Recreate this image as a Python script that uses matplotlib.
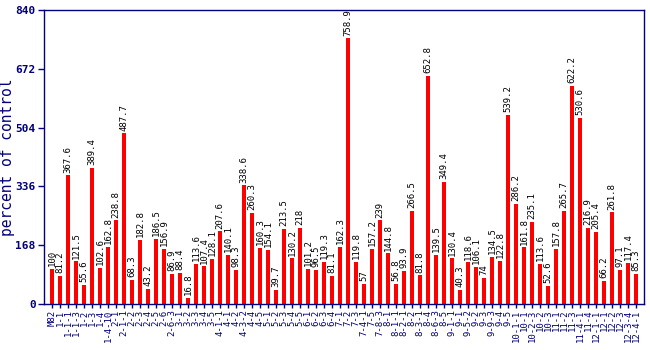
import matplotlib
matplotlib.use("Agg")
import matplotlib.pyplot as plt
import numpy as np

# sample labels and values (percent of control)
labels = ['M82', '1-1', '1-1-1', '1-1-3', '1-2', '1-3', '1-4', '1-4-10', '2-1', '2-1-1',
          '2-2', '2-3', '2-4', '2-5', '2-6', '2-6-3', '3-1', '3-2', '3-3', '3-4',
          '3-5', '4-1-1', '4-1', '4-2', '4-3-2', '4-4', '4-5', '5-1', '5-2', '5-3',
          '5-4', '5-5', '6-1', '6-2', '6-3', '6-4', '7-1', '7-2', '7-3', '7-4-1',
          '7-5', '7-8-3', '8-1', '8-1-1', '8-2-1', '8-2', '8-3-1', '8-4', '8-6-3', '8-5',
          '9-1-1', '9-1', '9-5-2', '9-2', '9-3', '9-9-3', '9-4', '9-5', '10-1-1', '10-1',
          '10-2-3', '10-2', '10-3', '11-1', '11-2', '11-3', '11-4-1', '11-4', '12-1-1', '12-1',
          '12-2', '12-3', '12-3-4', '12-4-1']
values = [100, 81.2, 367.6, 121.5, 55.6, 389.4, 102.6, 162.8, 238.8, 487.7,
          68.3, 182.8, 43.2, 186.5, 156.9, 86.9, 88.4, 16.8, 113.6, 107.4,
          128.1, 207.6, 140.1, 98.3, 338.6, 260.3, 160.3, 154.1, 39.7, 213.5,
          130.2, 218, 101.2, 96.5, 119.3, 81.1, 162.3, 758.9, 119.8, 57,
          157.2, 239, 144.8, 56.8, 93.9, 266.5, 81.8, 652.8, 139.5, 349.4,
          130.4, 40.3, 118.6, 106.1, 74, 134.5, 122.8, 539.2, 286.2, 161.8,
          235.1, 113.6, 52.6, 157.8, 265.7, 622.2, 530.6, 216.9, 205.4, 66.2,
          261.8, 97.1, 117.4, 85.3]
yticks = [0, 168, 336, 504, 672, 840]

navy = '#000080'
mono = 'DejaVu Sans Mono'

fig = plt.figure(figsize=(6.5, 3.5), dpi=100)
ax = fig.add_axes([44 / 650, 46 / 350, 600 / 650, 294 / 350])

x = np.arange(len(values))
ax.bar(x, values, width=0.5, color='#ff0000', zorder=2)

for xi, v in zip(x, values):
    ax.text(xi, v + 8, '%g' % v, rotation=90, ha='center', va='bottom',
            fontsize=6.5, family=mono, color='black')

ax.set_xlim(-1, len(values))
ax.set_ylim(0, 840)
ax.set_yticks(yticks)
ax.set_yticklabels([str(t) for t in yticks], fontsize=8, family=mono,
                   fontweight='bold', color=navy)
ax.set_xticks(x)
ax.set_xticklabels(labels, rotation=90, fontsize=6.5, family=mono, color=navy)
ax.tick_params(axis='y', colors=navy, length=4, width=1, pad=2)
ax.tick_params(axis='x', colors=navy, length=3, width=1, pad=1)
for s in ax.spines.values():
    s.set_color(navy)
    s.set_linewidth(1)

ax.set_ylabel('percent of control', fontsize=10.5, family=mono, color=navy, va='center')
ax.yaxis.set_label_coords(-36 / 600, 0.5)

fig.savefig('out.png', dpi=100)
